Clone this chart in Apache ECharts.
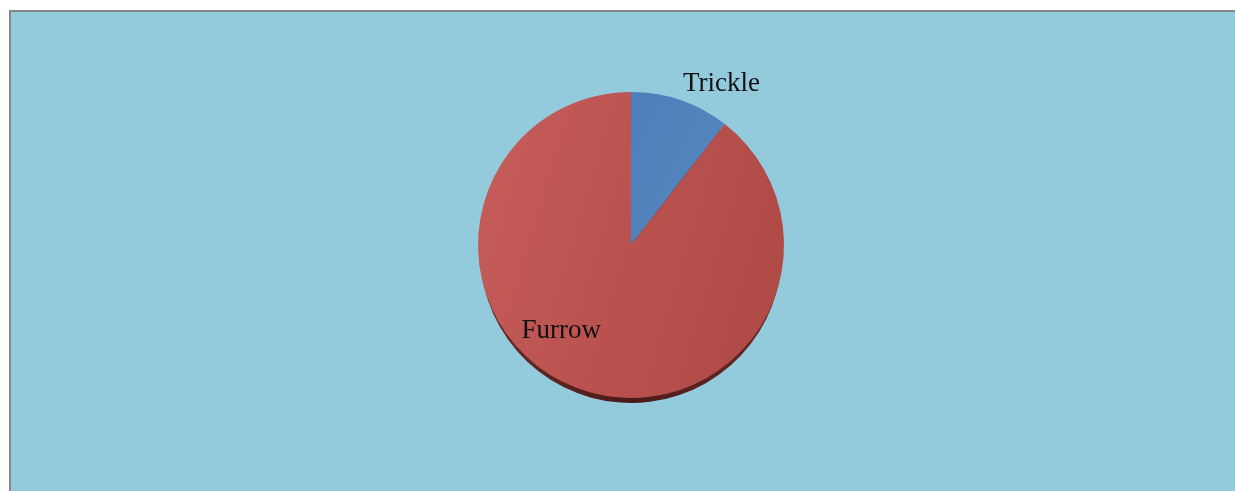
<!DOCTYPE html>
<html>
<head>
<meta charset="utf-8">
<script src="https://cdn.jsdelivr.net/npm/echarts@6/dist/echarts.min.js"></script>
<style>
  html, body { margin: 0; padding: 0; background: #ffffff; width: 1235px; height: 491px; overflow: hidden; }
  #frame { position: absolute; left: 9px; top: 10px; width: 1226px; height: 481px; background: #93CBDC; border-left: 2px solid #878787; border-top: 2px solid #878787; box-sizing: border-box; }
  #chart { position: absolute; left: 0; top: 0; width: 1235px; height: 491px; }
</style>
</head>
<body>
<div id="frame"></div>
<div id="chart"></div>
<script>
const categories = ['Trickle', 'Furrow'];
const values = [10.5, 89.5];

const chart = echarts.init(document.getElementById('chart'), null, { renderer: 'canvas' });

const furrowGrad = new echarts.graphic.LinearGradient(0, 0, 1, 0.3, [
  { offset: 0, color: '#C65D5A' },
  { offset: 1, color: '#B14B48' }
]);
const trickleGrad = new echarts.graphic.LinearGradient(0, 0, 1, 0.3, [
  { offset: 0, color: '#4E7FBB' },
  { offset: 1, color: '#5384BC' }
]);
const shadowGrad = new echarts.graphic.LinearGradient(0, 0, 1, 0, [
  { offset: 0, color: '#6a2b29' },
  { offset: 0.5, color: '#4a1b19' },
  { offset: 1, color: '#6a2b29' }
]);

const labelFont = { fontFamily: '"Liberation Serif", "DejaVu Serif", serif', fontSize: 27, color: '#111111' };

chart.setOption({
  animation: false,
  series: [
    {
      type: 'pie',
      silent: true,
      center: [631, 252],
      radius: 151,
      startAngle: 90,
      clockwise: true,
      label: { show: false },
      labelLine: { show: false },
      itemStyle: { color: shadowGrad, borderWidth: 0 },
      data: categories.map((c, i) => ({ name: c, value: values[i] })),
      z: 1
    },
    {
      type: 'pie',
      center: [631, 245],
      radius: 153,
      startAngle: 90,
      clockwise: true,
      z: 2,
      itemStyle: { borderWidth: 0 },
      labelLine: { show: false, length: 17, length2: 0 },
      label: Object.assign({ show: true, formatter: '{b}', distanceToLabelLine: 0 }, labelFont),
      data: categories.map((c, i) => {
        const item = { name: c, value: values[i] };
        if (i === 0) {
          item.itemStyle = { color: trickleGrad };
          item.label = { position: 'outside', offset: [-3, 0] };
        } else {
          item.itemStyle = { color: furrowGrad };
          item.label = { position: 'inside', offset: [-44, 11] };
        }
        return item;
      })
    }
  ]
});
</script>
</body>
</html>
